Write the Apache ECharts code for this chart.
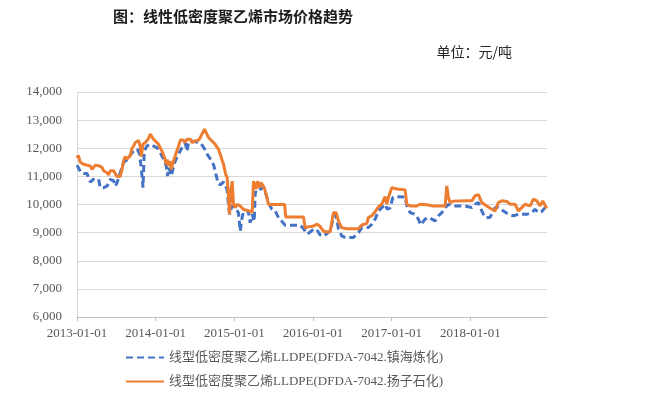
<!DOCTYPE html>
<html>
<head>
<meta charset="utf-8">
<script src="https://cdn.jsdelivr.net/npm/echarts@6/dist/echarts.min.js"></script>
<style>html,body{margin:0;padding:0;background:#fff}#c{width:646px;height:400px}</style>
</head>
<body>
<div id="c"></div>
<script>
// Tick labels
const xTickYears = [2013, 2014, 2015, 2016, 2017, 2018];
const yTicks = [6000, 7000, 8000, 9000, 10000, 11000, 12000, 13000, 14000];

// Series names
const nameZH = '线型低密度聚乙烯LLDPE(DFDA-7042.镇海炼化)';
const nameYZ = '线型低密度聚乙烯LLDPE(DFDA-7042.扬子石化)';

// 镇海炼化 (decimal year, 元/吨)
const zhT = [2013.000,2013.020,2013.042,2013.084,2013.127,2013.147,2013.169,2013.191,2013.211,2013.233,2013.274,2013.296,2013.338,2013.381,2013.423,2013.465,2013.487,2013.508,2013.529,2013.550,2013.592,2013.635,2013.677,2013.719,2013.741,2013.766,2013.795,2013.817,2013.839,2013.855,2013.889,2013.931,2013.973,2014.016,2014.058,2014.100,2014.135,2014.151,2014.164,2014.185,2014.198,2014.224,2014.249,2014.291,2014.334,2014.354,2014.376,2014.398,2014.418,2014.461,2014.503,2014.567,2014.588,2014.617,2014.656,2014.700,2014.738,2014.764,2014.795,2014.821,2014.863,2014.906,2014.939,2014.969,2015.011,2015.033,2015.053,2015.075,2015.096,2015.117,2015.160,2015.180,2015.202,2015.227,2015.253,2015.266,2015.307,2015.329,2015.371,2015.393,2015.434,2015.478,2015.520,2015.562,2015.605,2015.647,2015.837,2015.879,2015.901,2015.926,2015.964,2016.006,2016.049,2016.091,2016.133,2016.177,2016.218,2016.260,2016.282,2016.304,2016.324,2016.367,2016.409,2016.515,2016.578,2016.621,2016.705,2016.748,2016.790,2016.832,2016.875,2016.917,2016.946,2016.981,2017.015,2017.066,2017.171,2017.193,2017.235,2017.298,2017.340,2017.371,2017.425,2017.467,2017.511,2017.553,2017.595,2017.638,2017.680,2017.722,2017.765,2017.934,2018.019,2018.061,2018.103,2018.146,2018.188,2018.251,2018.315,2018.357,2018.421,2018.484,2018.547,2018.611,2018.718,2018.781,2018.823,2018.865,2018.908,2018.950,2018.972];
const zhV = [11400,11300,11170,11100,11100,11030,10800,10740,10900,10950,10900,10600,10600,10650,10890,10850,10650,10770,10950,10950,11500,11580,11760,11900,11960,11970,11800,11300,10600,11900,12080,12140,12080,12020,11850,11610,11370,11010,11310,11190,11010,11300,11550,11790,12020,12000,12200,11900,12200,12260,12230,12200,12200,12000,11780,11600,11400,11100,10750,10700,10800,10550,9650,9950,9900,9800,9700,9050,9500,9750,9800,9700,9350,9650,9400,10450,10420,10540,10620,10450,10070,9830,9770,9530,9400,9260,9260,9150,9050,8950,9020,9120,9100,8920,8870,8970,9060,9540,9650,9470,9120,8880,8830,8830,9000,9180,9180,9300,9480,9770,9890,10010,9830,9880,10250,10280,10270,9950,9710,9650,9480,9270,9480,9540,9480,9420,9600,9710,9890,10010,9950,9950,9890,10010,10070,9770,9540,9540,9890,9890,9770,9650,9600,9650,9650,9710,9830,9710,9750,9890,9850];

// 扬子石化 (decimal year, 元/吨)
const yzT = [2013.000,2013.017,2013.042,2013.084,2013.127,2013.169,2013.191,2013.233,2013.274,2013.318,2013.338,2013.381,2013.402,2013.423,2013.465,2013.487,2013.508,2013.529,2013.550,2013.572,2013.592,2013.614,2013.635,2013.656,2013.677,2013.699,2013.719,2013.741,2013.762,2013.783,2013.804,2013.817,2013.839,2013.868,2013.889,2013.910,2013.931,2013.953,2013.973,2013.995,2014.037,2014.080,2014.113,2014.131,2014.147,2014.164,2014.182,2014.198,2014.227,2014.249,2014.271,2014.291,2014.313,2014.354,2014.376,2014.398,2014.418,2014.440,2014.461,2014.503,2014.525,2014.545,2014.567,2014.588,2014.621,2014.639,2014.672,2014.715,2014.757,2014.799,2014.821,2014.842,2014.863,2014.872,2014.891,2014.910,2014.926,2014.939,2014.957,2014.973,2014.990,2015.011,2015.033,2015.075,2015.117,2015.180,2015.202,2015.227,2015.244,2015.259,2015.278,2015.295,2015.320,2015.338,2015.354,2015.380,2015.405,2015.434,2015.640,2015.653,2015.879,2015.901,2015.943,2015.964,2016.002,2016.053,2016.091,2016.129,2016.180,2016.218,2016.260,2016.295,2016.324,2016.367,2016.431,2016.578,2016.621,2016.685,2016.705,2016.748,2016.790,2016.832,2016.875,2016.917,2016.939,2016.959,2017.002,2017.023,2017.066,2017.171,2017.193,2017.235,2017.320,2017.362,2017.447,2017.531,2017.680,2017.701,2017.722,2017.743,2017.785,2017.955,2018.019,2018.061,2018.103,2018.146,2018.209,2018.273,2018.315,2018.357,2018.400,2018.464,2018.506,2018.569,2018.611,2018.654,2018.696,2018.760,2018.802,2018.845,2018.887,2018.921,2018.944,2018.972];
const yzV = [11650,11750,11500,11430,11400,11370,11250,11400,11380,11320,11200,11130,11050,11200,11200,11150,11000,10950,11000,11250,11550,11700,11620,11550,11730,12000,12080,12200,12150,12280,12050,11700,12150,12200,12150,12350,12500,12430,12320,12320,12140,11900,11670,11430,11600,11370,11550,11250,11550,11730,11790,12080,12290,12290,12200,12320,12260,12320,12200,12260,12320,12290,12380,12500,12680,12620,12380,12260,12140,11960,11790,11600,11430,11300,11070,10950,10950,9650,10480,10830,10000,9890,10000,9950,9820,9780,9720,9720,10830,10700,10550,10830,10600,10780,10830,10600,10360,10000,10000,9560,9560,9160,9210,9250,9230,9300,9220,9060,9020,9030,9710,9710,9410,9170,9140,9140,9270,9330,9540,9600,9740,9920,10010,10280,10010,10250,10600,10620,10550,10520,10010,9950,9950,10010,9990,9950,9950,10660,10250,10070,10120,10130,10130,10310,10350,10070,9950,9830,9770,10070,10130,10110,10010,10010,9770,9890,10010,9950,10190,10130,9950,10130,10080,9860];

const serif = '"Liberation Serif", "Noto Sans CJK SC", serif';
const chart = echarts.init(document.getElementById('c'));
chart.setOption({
  animation: false,
  backgroundColor: '#fff',
  graphic: [
    { type: 'text', x: 233, y: 16, style: { text: '图：线性低密度聚乙烯市场价格趋势', font: 'bold 15px "Noto Sans CJK SC"', fill: '#1a1a1a', textAlign: 'center', textVerticalAlign: 'middle' } },
    { type: 'text', x: 512, y: 52, style: { text: '单位：元/吨', font: '14px "Noto Sans CJK SC"', fill: '#262626', textAlign: 'right', textVerticalAlign: 'middle' } }
  ],
  grid: { left: 77, right: 99, top: 92, bottom: 83 },
  legend: {
    orient: 'vertical', left: 120, top: 346, itemWidth: 38, itemHeight: 10, itemGap: 11,
    itemStyle: { opacity: 0 },
    textStyle: { fontFamily: serif, fontSize: 13, color: '#595959' },
    data: [nameZH, nameYZ]
  },
  xAxis: {
    type: 'value', min: 2013, max: 2018.975,
    axisLine: { lineStyle: { color: '#bfbfbf', width: 1 } },
    axisTick: { show: true, length: 4, lineStyle: { color: '#bfbfbf' }, customValues: xTickYears },
    axisLabel: { customValues: xTickYears, formatter: v => Math.round(v) + '-01-01', fontFamily: serif, fontSize: 13, color: '#595959', margin: 10 },
    splitLine: { show: false }
  },
  yAxis: {
    type: 'value', min: yTicks[0], max: yTicks[yTicks.length - 1], interval: 1000,
    axisLine: { show: true, lineStyle: { color: '#d9d9d9' } },
    axisTick: { show: false },
    axisLabel: { formatter: v => v.toLocaleString('en-US'), fontFamily: serif, fontSize: 13, color: '#595959', margin: 15 },
    splitLine: { lineStyle: { color: '#d9d9d9', width: 1 } }
  },
  series: [
    { name: nameZH, type: 'line', symbol: 'none', data: zhT.map((t, i) => [t, zhV[i]]),
      lineStyle: { color: '#4472C4', width: 3, type: [7, 4] }, itemStyle: { color: '#4472C4' } },
    { name: nameYZ, type: 'line', symbol: 'none', data: yzT.map((t, i) => [t, yzV[i]]),
      lineStyle: { color: '#ED7D31', width: 3 }, itemStyle: { color: '#ED7D31' } }
  ]
});
</script>
</body>
</html>
